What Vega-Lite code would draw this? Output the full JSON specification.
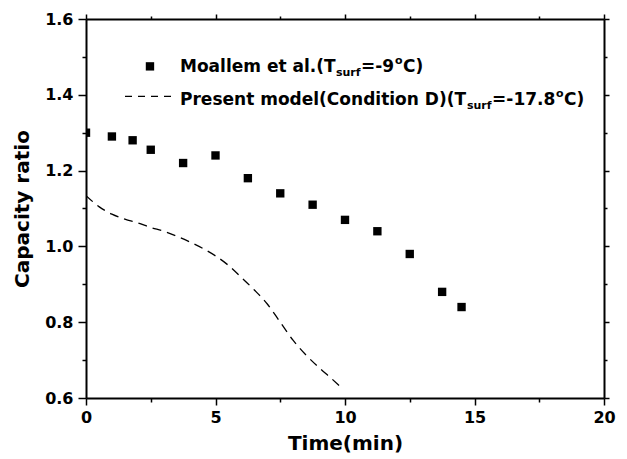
{
  "$schema": "https://vega.github.io/schema/vega-lite/v6.json",
  "width": 518,
  "height": 379,
  "autosize": {"type": "none"},
  "padding": {"left": 86, "top": 19, "right": 23, "bottom": 61},
  "background": "white",
  "config": {
    "view": {"stroke": null},
    "font": "DejaVu Sans",
    "axis": {
      "grid": false,
      "domainColor": "black",
      "domainWidth": 2,
      "tickColor": "black",
      "tickWidth": 1.5,
      "labelFont": "DejaVu Sans",
      "labelFontSize": 16,
      "labelFontWeight": "bold",
      "labelColor": "black",
      "labelFlush": false,
      "labelOverlap": false,
      "titleFont": "DejaVu Sans",
      "titleFontSize": 20,
      "titleFontWeight": "bold",
      "titleColor": "black"
    }
  },
  "datasets": {
    "moallem": [
      {"time": 0, "ratio": 1.30},
      {"time": 1, "ratio": 1.29},
      {"time": 1.8, "ratio": 1.28},
      {"time": 2.5, "ratio": 1.255},
      {"time": 3.75, "ratio": 1.22},
      {"time": 5, "ratio": 1.24},
      {"time": 6.25, "ratio": 1.18},
      {"time": 7.5, "ratio": 1.14},
      {"time": 8.75, "ratio": 1.11},
      {"time": 10, "ratio": 1.07},
      {"time": 11.25, "ratio": 1.04},
      {"time": 12.5, "ratio": 0.98},
      {"time": 13.75, "ratio": 0.88},
      {"time": 14.5, "ratio": 0.84}
    ],
    "model": [
      {"time": 0, "ratio": 1.134},
      {"time": 0.5, "ratio": 1.105},
      {"time": 1, "ratio": 1.085},
      {"time": 1.5, "ratio": 1.072},
      {"time": 2, "ratio": 1.062},
      {"time": 2.5, "ratio": 1.05},
      {"time": 3, "ratio": 1.04},
      {"time": 3.5, "ratio": 1.027},
      {"time": 4, "ratio": 1.012},
      {"time": 4.5, "ratio": 0.995},
      {"time": 5, "ratio": 0.975},
      {"time": 5.5, "ratio": 0.95},
      {"time": 6, "ratio": 0.918},
      {"time": 6.5, "ratio": 0.885},
      {"time": 7, "ratio": 0.848},
      {"time": 7.5, "ratio": 0.8},
      {"time": 8, "ratio": 0.752},
      {"time": 8.5, "ratio": 0.713},
      {"time": 9, "ratio": 0.68},
      {"time": 9.5, "ratio": 0.65},
      {"time": 9.9, "ratio": 0.625}
    ],
    "one": [{}]
  },
  "resolve": {"axis": {"x": "independent", "y": "independent"}},
  "layer": [
    {
      "data": {"name": "moallem"},
      "mark": {"type": "point", "shape": "square", "filled": true, "color": "black", "opacity": 1, "size": 70, "clip": true},
      "encoding": {
        "x": {"field": "time", "type": "quantitative", "scale": {"domain": [0, 20], "nice": false, "zero": false},
          "axis": {"orient": "bottom", "values": [0, 2.5, 5, 7.5, 10, 12.5, 15, 17.5, 20],
            "labelExpr": "datum.value % 5 === 0 ? format(datum.value, 'd') : ''",
            "tickSize": {"condition": {"test": "datum.value % 5 === 0", "value": 7}, "value": 4},
            "labelPadding": 4, "title": "Time(min)", "titlePadding": 8}},
        "y": {"field": "ratio", "type": "quantitative", "scale": {"domain": [0.6, 1.6], "nice": false, "zero": false},
          "axis": {"orient": "left", "values": [0.6, 0.7, 0.8, 0.9, 1.0, 1.1, 1.2, 1.3, 1.4, 1.5, 1.6],
            "labelExpr": "round(datum.value * 10) % 2 === 0 ? format(datum.value, '.1f') : ''",
            "tickSize": {"condition": {"test": "round(datum.value * 10) % 2 === 0", "value": 8}, "value": 4},
            "labelPadding": 5, "title": "Capacity ratio", "titlePadding": 12}}
      }
    },
    {
      "data": {"name": "model"},
      "mark": {"type": "line", "color": "black", "strokeWidth": 1.3, "strokeDash": [9, 6], "interpolate": "monotone", "clip": true},
      "encoding": {
        "x": {"field": "time", "type": "quantitative", "scale": {"domain": [0, 20], "nice": false, "zero": false},
          "axis": {"orient": "top", "values": [0, 2.5, 5, 7.5, 10, 12.5, 15, 17.5, 20], "labels": false, "title": null,
            "tickSize": {"condition": {"test": "datum.value % 5 === 0", "value": 5}, "value": 3}}},
        "y": {"field": "ratio", "type": "quantitative", "scale": {"domain": [0.6, 1.6], "nice": false, "zero": false},
          "axis": {"orient": "right", "values": [0.6, 0.7, 0.8, 0.9, 1.0, 1.1, 1.2, 1.3, 1.4, 1.5, 1.6], "labels": false, "title": null,
            "tickSize": {"condition": {"test": "round(datum.value * 10) % 2 === 0", "value": 5}, "value": 3}}}
      }
    },
    {
      "data": {"name": "one"},
      "mark": {"type": "point", "shape": "square", "filled": true, "color": "black", "opacity": 1, "size": 70},
      "encoding": {"x": {"datum": 2.47, "type": "quantitative", "axis": null}, "y": {"datum": 1.475, "type": "quantitative", "axis": null}}
    },
    {
      "data": {"name": "one"},
      "mark": {"type": "rule", "color": "black", "strokeWidth": 1.3, "strokeDash": [7, 6]},
      "encoding": {"x": {"datum": 1.506, "type": "quantitative", "axis": null}, "x2": {"datum": 3.436}, "y": {"datum": 1.396, "type": "quantitative", "axis": null}}
    },
    {
      "data": {"name": "one"},
      "mark": {"type": "text", "align": "left", "baseline": "alphabetic", "font": "DejaVu Sans", "fontWeight": "bold", "fontSize": 17, "color": "black"},
      "encoding": {"x": {"datum": 3.63, "type": "quantitative", "axis": null}, "y": {"datum": 1.4594, "type": "quantitative", "axis": null}, "text": {"value": "Moallem et al.(T"}}
    },
    {
      "data": {"name": "one"},
      "mark": {"type": "text", "align": "left", "baseline": "alphabetic", "font": "DejaVu Sans", "fontWeight": "bold", "fontSize": 11, "color": "black"},
      "encoding": {"x": {"datum": 9.65, "type": "quantitative", "axis": null}, "y": {"datum": 1.4488, "type": "quantitative", "axis": null}, "text": {"value": "surf"}}
    },
    {
      "data": {"name": "one"},
      "mark": {"type": "text", "align": "left", "baseline": "alphabetic", "font": "DejaVu Sans", "fontWeight": "bold", "fontSize": 17, "color": "black"},
      "encoding": {"x": {"datum": 10.62, "type": "quantitative", "axis": null}, "y": {"datum": 1.4594, "type": "quantitative", "axis": null}, "text": {"value": "=-9"}}
    },
    {
      "data": {"name": "one"},
      "mark": {"type": "text", "align": "left", "baseline": "alphabetic", "font": "DejaVu Sans", "fontWeight": "bold", "fontSize": 11, "color": "black"},
      "encoding": {"x": {"datum": 11.93, "type": "quantitative", "axis": null}, "y": {"datum": 1.4805, "type": "quantitative", "axis": null}, "text": {"value": "o"}}
    },
    {
      "data": {"name": "one"},
      "mark": {"type": "text", "align": "left", "baseline": "alphabetic", "font": "DejaVu Sans", "fontWeight": "bold", "fontSize": 17, "color": "black"},
      "encoding": {"x": {"datum": 12.24, "type": "quantitative", "axis": null}, "y": {"datum": 1.4594, "type": "quantitative", "axis": null}, "text": {"value": "C)"}}
    },
    {
      "data": {"name": "one"},
      "mark": {"type": "text", "align": "left", "baseline": "alphabetic", "font": "DejaVu Sans", "fontWeight": "bold", "fontSize": 17, "color": "black"},
      "encoding": {"x": {"datum": 3.63, "type": "quantitative", "axis": null}, "y": {"datum": 1.3736, "type": "quantitative", "axis": null}, "text": {"value": "Present model(Condition D)(T"}}
    },
    {
      "data": {"name": "one"},
      "mark": {"type": "text", "align": "left", "baseline": "alphabetic", "font": "DejaVu Sans", "fontWeight": "bold", "fontSize": 11, "color": "black"},
      "encoding": {"x": {"datum": 14.71, "type": "quantitative", "axis": null}, "y": {"datum": 1.363, "type": "quantitative", "axis": null}, "text": {"value": "surf"}}
    },
    {
      "data": {"name": "one"},
      "mark": {"type": "text", "align": "left", "baseline": "alphabetic", "font": "DejaVu Sans", "fontWeight": "bold", "fontSize": 17, "color": "black"},
      "encoding": {"x": {"datum": 15.68, "type": "quantitative", "axis": null}, "y": {"datum": 1.3736, "type": "quantitative", "axis": null}, "text": {"value": "=-17.8"}}
    },
    {
      "data": {"name": "one"},
      "mark": {"type": "text", "align": "left", "baseline": "alphabetic", "font": "DejaVu Sans", "fontWeight": "bold", "fontSize": 11, "color": "black"},
      "encoding": {"x": {"datum": 18.15, "type": "quantitative", "axis": null}, "y": {"datum": 1.3947, "type": "quantitative", "axis": null}, "text": {"value": "o"}}
    },
    {
      "data": {"name": "one"},
      "mark": {"type": "text", "align": "left", "baseline": "alphabetic", "font": "DejaVu Sans", "fontWeight": "bold", "fontSize": 17, "color": "black"},
      "encoding": {"x": {"datum": 18.46, "type": "quantitative", "axis": null}, "y": {"datum": 1.3736, "type": "quantitative", "axis": null}, "text": {"value": "C)"}}
    }
  ]
}
